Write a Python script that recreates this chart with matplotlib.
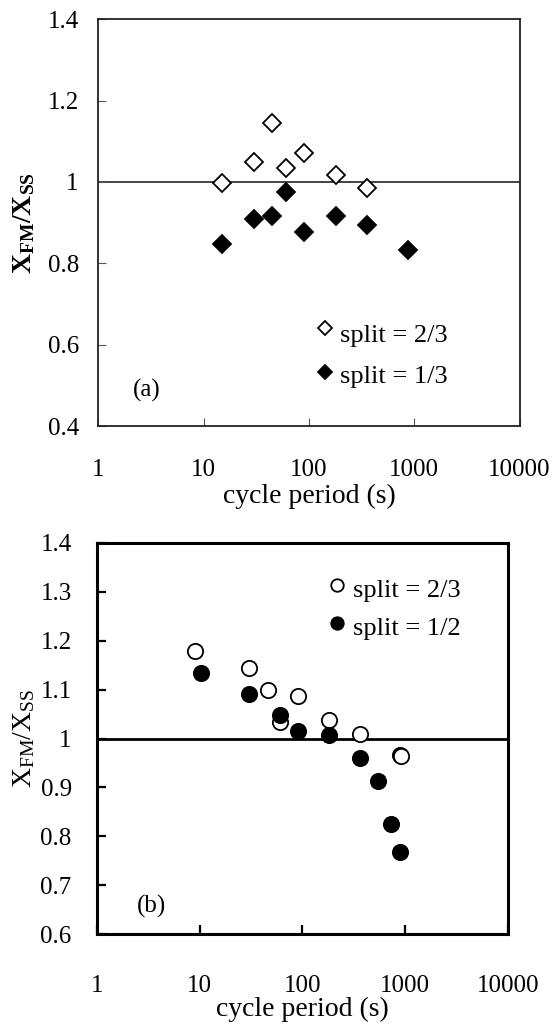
import matplotlib
matplotlib.use("Agg")
import matplotlib.pyplot as plt
from matplotlib.ticker import FixedLocator, FixedFormatter, NullLocator

plt.rcParams['font.family'] = ['Liberation Serif', 'DejaVu Serif']
plt.rcParams['mathtext.fontset'] = 'custom'
plt.rcParams['mathtext.rm'] = 'Liberation Serif'
plt.rcParams['mathtext.it'] = 'Liberation Serif:italic'
plt.rcParams['mathtext.bf'] = 'Liberation Serif:bold'

# ---- data: panel (a) ----
a_period_23 = [15, 30, 45, 60, 90, 180, 360]
a_ratio_23 = [0.998, 1.050, 1.144, 1.034, 1.072, 1.016, 0.986]
a_period_13 = [15, 30, 45, 60, 90, 180, 360, 880]
a_ratio_13 = [0.848, 0.909, 0.917, 0.975, 0.877, 0.917, 0.893, 0.833]

# ---- data: panel (b) ----
b_period_23 = [9, 30, 46, 60, 90, 180, 360, 900, 920]
b_ratio_23 = [1.179, 1.144, 1.100, 1.033, 1.087, 1.037, 1.009, 0.966, 0.965]
b_period_12 = [10.4, 30, 60, 90, 180, 360, 545, 720, 890]
b_ratio_12 = [1.133, 1.091, 1.049, 1.016, 1.007, 0.961, 0.913, 0.825, 0.768]

x_ticks = [1, 10, 100, 1000, 10000]
x_tick_labels = ['1', '10', '100', '1000', '10000']
a_y_ticks = [0.4, 0.6, 0.8, 1.0, 1.2, 1.4]
a_y_labels = ['0.4', '0.6', '0.8', '1', '1.2', '1.4']
b_y_ticks = [0.6, 0.7, 0.8, 0.9, 1.0, 1.1, 1.2, 1.3, 1.4]
b_y_labels = ['0.6', '0.7', '0.8', '0.9', '1', '1.1', '1.2', '1.3', '1.4']

W, H = 556, 1028
fig = plt.figure(figsize=(W / 100, H / 100), dpi=100)

def px_axes(l, t, r, b):
    return [l / W, 1 - b / H, (r - l) / W, (b - t) / H]

TICK_FS = 18

# ================= panel (a) =================
axa = fig.add_axes(px_axes(98.3, 19.3, 519.5, 426))
axa.set_xscale('log')
axa.set_xlim(1, 10000)
axa.set_ylim(0.4, 1.4)
axa.axhline(1.0, color='#444444', lw=1.4, zorder=1)
axa.plot(a_period_23, a_ratio_23, linestyle='none', marker='D', ms=8.8,
         mfc='white', mec='black', mew=1.3, zorder=3)
axa.plot(a_period_13, a_ratio_13, linestyle='none', marker='D', ms=8.8,
         mfc='black', mec='black', mew=1.3, zorder=3)
axa.xaxis.set_major_locator(FixedLocator(x_ticks))
axa.xaxis.set_major_formatter(FixedFormatter(x_tick_labels))
axa.xaxis.set_minor_locator(NullLocator())
axa.yaxis.set_major_locator(FixedLocator(a_y_ticks))
axa.yaxis.set_major_formatter(FixedFormatter(a_y_labels))
for s in axa.spines.values():
    s.set_linewidth(1.3)
    s.set_color('#222222')
axa.tick_params(axis='both', direction='in', length=6, width=0.8,
                color='#555555', labelsize=TICK_FS)
axa.tick_params(axis='x', pad=24)
axa.tick_params(axis='y', pad=14)
axa.set_xlabel('cycle period (s)', fontsize=20, labelpad=2)
axa.set_ylabel(r'$\mathbf{X_{FM}/X_{SS}}$', fontsize=20)
axa.yaxis.set_label_coords(-0.1765, 0.5)
axa.yaxis.label.set_va('center')
# legend (a)
axa.plot([0.5386], [0.241], transform=axa.transAxes, marker='D', ms=7.5,
         mfc='white', mec='black', mew=1.3, linestyle='none', clip_on=False)
axa.plot([0.5386], [0.133], transform=axa.transAxes, marker='D', ms=7.5,
         mfc='black', mec='black', mew=1.3, linestyle='none', clip_on=False)
axa.text(0.574, 0.207, 'split = 2/3', transform=axa.transAxes, fontsize=19,
         ha='left', va='baseline')
axa.text(0.574, 0.105, 'split = 1/3', transform=axa.transAxes, fontsize=19,
         ha='left', va='baseline')
axa.text(0.082, 0.0885, '(a)', transform=axa.transAxes, fontsize=18,
         ha='left', va='center')

# ================= panel (b) =================
axb = fig.add_axes(px_axes(96.7, 542.7, 508, 934.3))
axb.set_xscale('log')
axb.set_xlim(1, 10000)
axb.set_ylim(0.6, 1.4)
axb.axhline(1.0, color='black', lw=2.0, zorder=1)
axb.plot(b_period_23, b_ratio_23, linestyle='none', marker='o', ms=11,
         mfc='white', mec='black', mew=1.3, zorder=3)
axb.plot(b_period_12, b_ratio_12, linestyle='none', marker='o', ms=11,
         mfc='black', mec='black', mew=1.3, zorder=4)
axb.xaxis.set_major_locator(FixedLocator(x_ticks))
axb.xaxis.set_major_formatter(FixedFormatter(x_tick_labels))
axb.xaxis.set_minor_locator(NullLocator())
axb.yaxis.set_major_locator(FixedLocator(b_y_ticks))
axb.yaxis.set_major_formatter(FixedFormatter(b_y_labels))
for s in axb.spines.values():
    s.set_linewidth(2.2)
    s.set_color('black')
axb.tick_params(axis='both', direction='in', length=6.5, width=1.6,
                color='black', labelsize=TICK_FS)
axb.tick_params(axis='x', pad=29)
axb.tick_params(axis='y', pad=18)
axb.set_xlabel('cycle period (s)', fontsize=20, labelpad=0)
axb.set_ylabel(r'$\mathrm{X_{FM}/X_{SS}}$', fontsize=20)
axb.yaxis.set_label_coords(-0.1768, 0.5)
axb.yaxis.label.set_va('center')
# legend (b)
axb.plot([0.5835], [0.892], transform=axb.transAxes, marker='o', ms=9,
         mfc='white', mec='black', mew=1.3, linestyle='none', clip_on=False)
axb.plot([0.5835], [0.795], transform=axb.transAxes, marker='o', ms=9,
         mfc='black', mec='black', mew=1.3, linestyle='none', clip_on=False)
axb.text(0.623, 0.861, 'split = 2/3', transform=axb.transAxes, fontsize=19,
         ha='left', va='baseline')
axb.text(0.623, 0.765, 'split = 1/2', transform=axb.transAxes, fontsize=19,
         ha='left', va='baseline')
axb.text(0.098, 0.07, '(b)', transform=axb.transAxes, fontsize=18,
         ha='left', va='center')

fig.savefig('out.png', dpi=100)
